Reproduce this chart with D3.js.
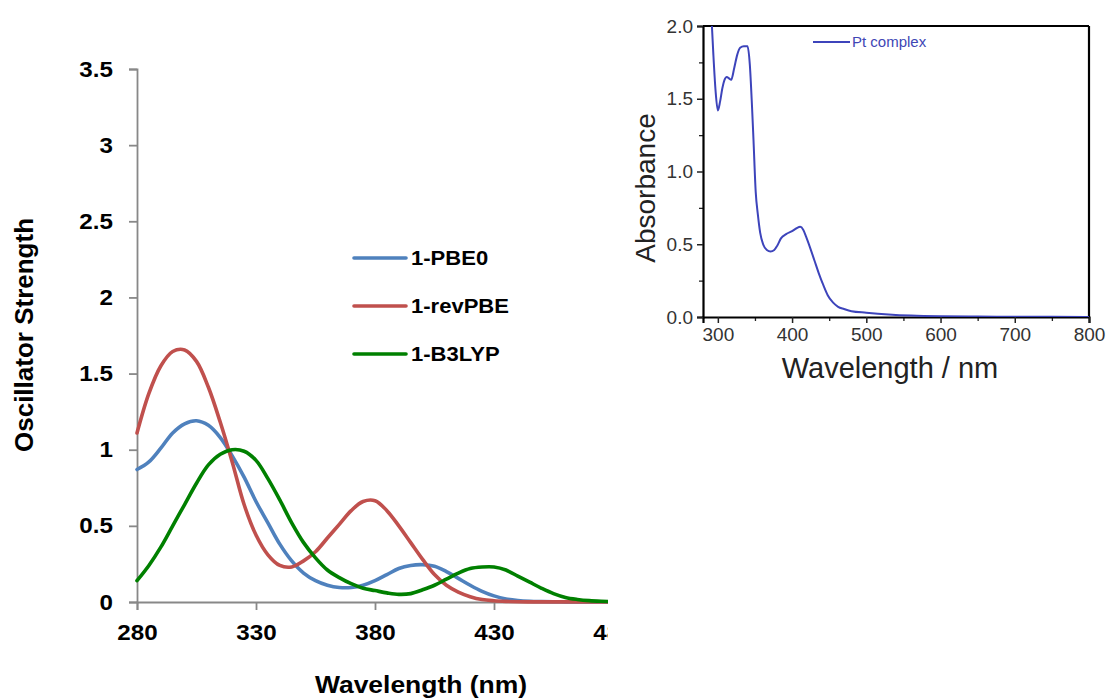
<!DOCTYPE html>
<html>
<head>
<meta charset="utf-8">
<script src="https://cdn.jsdelivr.net/npm/d3@7"></script>
<style>
  html, body { margin: 0; padding: 0; background: #fff; }
  svg { display: block; }
</style>
</head>
<body>
<div id="chart"></div>
<script>
// Left panel: simulated spectra (oscillator strength vs wavelength)
const WAVELENGTHS = [280, 285, 290, 295, 300, 305, 310, 315, 320, 325, 330, 335, 340, 345, 350,
  355, 360, 365, 370, 375, 380, 385, 390, 395, 400, 405, 410, 415, 420, 425, 430, 435, 440,
  445, 450, 455, 460, 465, 470, 475, 480];
const PBE0 = [0.87, 0.92, 1.01, 1.11, 1.17, 1.19, 1.16, 1.08, 0.96, 0.82, 0.66, 0.52, 0.38, 0.27, 0.19,
  0.14, 0.11, 0.095, 0.095, 0.11, 0.14, 0.18, 0.22, 0.24, 0.245, 0.235, 0.2, 0.155, 0.11, 0.07, 0.04, 0.02, 0.01,
  0.005, 0.003, 0.002, 0.001, 0.001, 0.001, 0.001, 0.001];
const REVPBE = [1.11, 1.37, 1.55, 1.645, 1.655, 1.58, 1.41, 1.18, 0.92, 0.64, 0.44, 0.31, 0.24, 0.23, 0.27,
  0.33, 0.42, 0.51, 0.6, 0.66, 0.665, 0.6, 0.5, 0.39, 0.28, 0.18, 0.11, 0.065, 0.035, 0.016, 0.008, 0.004, 0.002,
  0.001, 0.001, 0.001, 0.001, 0.001, 0.001, 0.001, 0.001];
const B3LYP = [0.14, 0.24, 0.36, 0.5, 0.64, 0.78, 0.9, 0.97, 1.0, 0.99, 0.93, 0.81, 0.67, 0.52, 0.39,
  0.29, 0.21, 0.16, 0.12, 0.09, 0.075, 0.06, 0.05, 0.055, 0.08, 0.11, 0.15, 0.19, 0.22, 0.23, 0.23, 0.21, 0.17,
  0.13, 0.09, 0.055, 0.03, 0.017, 0.009, 0.005, 0.003];
const SERIES_NAMES = ['1-PBE0', '1-revPBE', '1-B3LYP'];
const X_TICKS = [280, 330, 380, 430, 480];
const Y_TICKS = [0, 0.5, 1, 1.5, 2, 2.5, 3, 3.5];

// Inset: measured absorbance of the Pt complex
const PT_WAVELENGTH = [292, 294, 297, 300, 303, 306, 309, 312, 315, 318, 322, 326, 330, 335, 340, 343,
  346, 348, 351, 354, 357, 361, 366, 371, 376, 380, 385, 392, 400, 406, 411, 415, 419, 424, 430, 436,
  442, 448, 455, 462, 470, 480, 500, 530, 560, 600, 650, 700, 750, 800];
const PT_ABSORBANCE = [2.0, 1.8, 1.55, 1.42, 1.48, 1.57, 1.63, 1.65, 1.64, 1.63, 1.71, 1.8, 1.85, 1.86, 1.86, 1.74,
  1.45, 1.22, 0.86, 0.7, 0.58, 0.5, 0.46, 0.45, 0.46, 0.49, 0.54, 0.57, 0.59, 0.61, 0.62, 0.6, 0.55, 0.48, 0.39, 0.3,
  0.22, 0.15, 0.1, 0.07, 0.055, 0.04, 0.03, 0.018, 0.01, 0.005, 0.003, 0.002, 0.001, 0];
const INSET_X_TICKS = [300, 400, 500, 600, 700, 800];
const INSET_Y_TICKS = [0, 0.5, 1.0, 1.5, 2.0];

(function () {
  'use strict';

  const width = 1108, height = 698;
  const COLORS = ['#4f81bd', '#c0504d', '#008000'];

  const svg = d3.select('#chart').append('svg')
    .attr('width', width)
    .attr('height', height);

  // stretch text a little wider, the source image is squeezed
  function widen(sel, k) {
    sel.each(function () {
      const w = this.getComputedTextLength();
      d3.select(this).attr('textLength', w * k).attr('lengthAdjust', 'spacingAndGlyphs');
    });
  }

  // ---------- left panel ----------
  svg.append('clipPath').attr('id', 'left-clip')
    .append('rect').attr('x', 0).attr('y', 0).attr('width', 608).attr('height', height);

  const left = svg.append('g').attr('clip-path', 'url(#left-clip)')
    .style('font-family', '"Liberation Sans", Arial, sans-serif')
    .style('font-weight', 'bold');

  const x = d3.scaleLinear().domain([280, 480]).range([137, 613]);
  const y = d3.scaleLinear().domain([0, 3.5]).range([602, 69]);

  const xAxis = left.append('g')
    .attr('transform', `translate(0,${y(0)})`)
    .call(d3.axisBottom(x).tickValues(X_TICKS).tickSize(8).tickPadding(14));
  const yAxis = left.append('g')
    .attr('transform', `translate(${x(280)},0)`)
    .call(d3.axisLeft(y).tickValues(Y_TICKS).tickSize(8).tickPadding(16)
      .tickFormat(d3.format('~g')));

  [xAxis, yAxis].forEach(ax => {
    ax.select('.domain').attr('stroke', '#888').attr('stroke-width', 1.8);
    ax.selectAll('.tick line').attr('stroke', '#888').attr('stroke-width', 1.8);
    ax.selectAll('.tick text')
      .attr('fill', '#000')
      .style('font-size', '22px')
      .style('font-family', '"Liberation Sans", Arial, sans-serif')
      .style('font-weight', 'bold');
  });
  xAxis.selectAll('.tick text').attr('dy', '0.71em');
  widen(xAxis.selectAll('.tick text'), 1.1);
  widen(yAxis.selectAll('.tick text'), 1.1);

  const line = d3.line()
    .x(d => x(d[0]))
    .y(d => y(d[1]))
    .curve(d3.curveCatmullRom);

  [PBE0, REVPBE, B3LYP].forEach((vals, i) => {
    left.append('path')
      .datum(WAVELENGTHS.map((w, j) => [w, vals[j]]))
      .attr('d', line)
      .attr('fill', 'none')
      .attr('stroke', COLORS[i])
      .attr('stroke-width', 3.6)
      .attr('stroke-linecap', 'round');
  });

  // legend
  SERIES_NAMES.forEach((name, i) => {
    const ly = 258 + i * 48;
    left.append('line')
      .attr('x1', 354).attr('x2', 406)
      .attr('y1', ly).attr('y2', ly)
      .attr('stroke', COLORS[i])
      .attr('stroke-width', 3.6)
      .attr('stroke-linecap', 'round');
    const t = left.append('text')
      .attr('x', 411).attr('y', ly)
      .attr('dy', '0.35em')
      .style('font-size', '19.5px')
      .text(name);
    widen(t, 1.13);
  });

  // axis titles
  const xt = left.append('text')
    .attr('x', 421).attr('y', 693)
    .attr('text-anchor', 'middle')
    .style('font-size', '23px')
    .text('Wavelength (nm)');
  widen(xt, 1.15);

  left.append('text')
    .attr('transform', 'translate(33,335) rotate(-90)')
    .attr('text-anchor', 'middle')
    .style('font-size', '26px')
    .text('Oscillator Strength');

  // ---------- inset ----------
  const ix = d3.scaleLinear().domain([280, 800]).range([703, 1089]);
  const iy = d3.scaleLinear().domain([0, 2]).range([317, 26]);

  const inset = svg.append('g')
    .style('font-family', '"Liberation Sans", Arial, sans-serif');

  svg.append('clipPath').attr('id', 'inset-clip')
    .append('rect').attr('x', 703).attr('y', 26).attr('width', 386).attr('height', 291);

  // minor ticks
  inset.append('g')
    .attr('transform', `translate(0,${iy(0)})`)
    .call(d3.axisBottom(ix).tickValues(d3.range(350, 800, 100)).tickSize(4).tickFormat(''))
    .call(g => g.select('.domain').remove())
    .selectAll('line').attr('stroke', '#222').attr('stroke-width', 1.3);
  inset.append('g')
    .attr('transform', `translate(${ix(280)},0)`)
    .call(d3.axisLeft(iy).tickValues([0.25, 0.75, 1.25, 1.75]).tickSize(4).tickFormat(''))
    .call(g => g.select('.domain').remove())
    .selectAll('line').attr('stroke', '#222').attr('stroke-width', 1.3);

  const ixAxis = inset.append('g')
    .attr('transform', `translate(0,${iy(0)})`)
    .call(d3.axisBottom(ix).tickValues(INSET_X_TICKS).tickSize(6).tickPadding(5)
      .tickFormat(d3.format('d')));
  const iyAxis = inset.append('g')
    .attr('transform', `translate(${ix(280)},0)`)
    .call(d3.axisLeft(iy).tickValues(INSET_Y_TICKS).tickSize(6).tickPadding(4)
      .tickFormat(d3.format('.1f')));

  [ixAxis, iyAxis].forEach(ax => {
    ax.select('.domain').attr('stroke', '#000').attr('stroke-width', 2.2);
    ax.selectAll('.tick line').attr('stroke', '#222').attr('stroke-width', 1.5);
    ax.selectAll('.tick text')
      .attr('fill', '#333')
      .style('font-size', '19px')
      .style('font-family', '"Liberation Sans", Arial, sans-serif');
  });

  // frame top and right
  inset.append('line')
    .attr('x1', ix(280)).attr('x2', ix(800)).attr('y1', iy(2)).attr('y2', iy(2))
    .attr('stroke', '#000').attr('stroke-width', 2.2);
  inset.append('line')
    .attr('x1', ix(800)).attr('x2', ix(800)).attr('y1', iy(2)).attr('y2', iy(0))
    .attr('stroke', '#000').attr('stroke-width', 2.2);

  const iline = d3.line()
    .x(d => ix(d[0]))
    .y(d => iy(d[1]))
    .curve(d3.curveMonotoneX);

  inset.append('path')
    .datum(PT_WAVELENGTH.map((w, j) => [w, PT_ABSORBANCE[j]]))
    .attr('clip-path', 'url(#inset-clip)')
    .attr('d', iline)
    .attr('fill', 'none')
    .attr('stroke', '#3d44bb')
    .attr('stroke-width', 2);

  // legend
  inset.append('line')
    .attr('x1', 813).attr('x2', 850).attr('y1', 42).attr('y2', 42)
    .attr('stroke', '#3d44bb').attr('stroke-width', 2.2);
  inset.append('text')
    .attr('x', 852).attr('y', 42).attr('dy', '0.35em')
    .attr('fill', '#4046b5')
    .style('font-size', '15px')
    .text('Pt complex');

  // titles
  inset.append('text')
    .attr('x', 890).attr('y', 378)
    .attr('text-anchor', 'middle')
    .attr('fill', '#222')
    .style('font-size', '29px')
    .text('Wavelength / nm');
  inset.append('text')
    .attr('transform', 'translate(655,188) rotate(-90)')
    .attr('text-anchor', 'middle')
    .attr('fill', '#222')
    .style('font-size', '28px')
    .text('Absorbance');
})();
</script>
</body>
</html>
